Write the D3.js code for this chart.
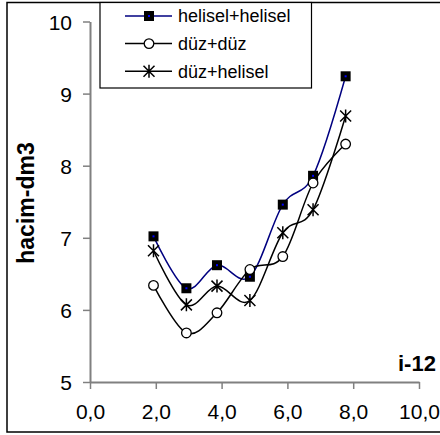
<!DOCTYPE html>
<html lang="tr">
<head>
<meta charset="utf-8">
<title>hacim-dm3</title>
<style>
  body { margin: 0; background: #fff; }
  text { font-family: "Liberation Sans", Arial, sans-serif; }
</style>
</head>
<body>
<script src="https://cdn.jsdelivr.net/npm/d3@7"></script>
<script>
var w = 440, h = 435;

// data
var xVals = [1.93, 2.93, 3.86, 4.86, 5.86, 6.78, 7.77];
var heliselHelisel = [7.02, 6.30, 6.62, 6.46, 7.46, 7.86, 9.24];
var duzDuz = [6.34, 5.68, 5.96, 6.56, 6.74, 7.76, 8.30];
var duzHelisel = [6.82, 6.07, 6.33, 6.13, 7.07, 7.39, 8.69];
var seriesNames = ["helisel+helisel", "düz+düz", "düz+helisel"];
var xTicks = [0, 2, 4, 6, 8, 10];
var yTicks = [5, 6, 7, 8, 9, 10];

var svg = d3.select("body").append("svg")
  .attr("width", w)
  .attr("height", h);

// outer frame
svg.append("rect")
  .attr("x", 7).attr("y", 2.5)
  .attr("width", 445).attr("height", 429.5)
  .attr("fill", "#fff")
  .attr("stroke", "#000")
  .attr("stroke-width", 1.5);

var x = d3.scaleLinear().domain([0, 10]).range([90, 419]);
var y = d3.scaleLinear().domain([5, 10]).range([382, 21.5]);

// axes
var xAxis = svg.append("g")
  .attr("transform", "translate(0," + y(5) + ")")
  .call(d3.axisBottom(x).tickValues(xTicks).tickSize(7).tickSizeOuter(0)
    .tickFormat(function (d) { return d3.format(".1f")(d).replace(".", ","); }));

var yAxis = svg.append("g")
  .attr("transform", "translate(" + x(0) + ",0)")
  .call(d3.axisLeft(y).tickValues(yTicks).tickSize(7).tickSizeOuter(0)
    .tickFormat(d3.format("d")));

[xAxis, yAxis].forEach(function (g) {
  g.select(".domain").attr("stroke", "#808080").attr("stroke-width", 2);
  g.selectAll(".tick line").attr("stroke", "#808080").attr("stroke-width", 1.5);
  g.selectAll(".tick text")
    .attr("fill", "#000")
    .style("font-size", "21px")
    .style("font-family", "'Liberation Sans', Arial, sans-serif");
});
xAxis.selectAll(".tick text").attr("dy", "0").attr("y", 37);
yAxis.selectAll(".tick text").attr("x", -18).attr("dy", "0.36em");

// axis titles
svg.append("text")
  .attr("transform", "translate(34,203) rotate(-90)")
  .attr("text-anchor", "middle")
  .style("font-size", "23px")
  .style("font-weight", "bold")
  .text("hacim-dm3");

svg.append("text")
  .attr("x", 398).attr("y", 371)
  .style("font-size", "22px")
  .style("font-weight", "bold")
  .text("i-12");

// series
var series = [
  { name: seriesNames[0], values: heliselHelisel, color: "#000080", marker: "square" },
  { name: seriesNames[1], values: duzDuz, color: "#000", marker: "circle" },
  { name: seriesNames[2], values: duzHelisel, color: "#000", marker: "star" }
];

var line = d3.line()
  .x(function (d) { return x(d[0]); })
  .y(function (d) { return y(d[1]); })
  .curve(d3.curveCardinal.tension(0));

function drawMarker(g, type, cx, cy) {
  if (type == "square") {
    g.append("rect").attr("x", cx - 5).attr("y", cy - 5)
      .attr("width", 10).attr("height", 10).attr("fill", "#000");
    g.append("rect").attr("x", cx - 1).attr("y", cy - 1)
      .attr("width", 2).attr("height", 2).attr("fill", "#0000ff");
  } else if (type == "circle") {
    g.append("circle").attr("cx", cx).attr("cy", cy).attr("r", 4.8)
      .attr("fill", "#fff").attr("stroke", "#000").attr("stroke-width", 1.3);
  } else {
    var s = 5.5;
    g.append("path")
      .attr("d", "M" + (cx - s) + "," + (cy - s) + "L" + (cx + s) + "," + (cy + s) +
        "M" + (cx - s) + "," + (cy + s) + "L" + (cx + s) + "," + (cy - s) +
        "M" + cx + "," + (cy - s - 1) + "L" + cx + "," + (cy + s + 1))
      .attr("stroke", "#000").attr("stroke-width", 1.5).attr("fill", "none");
  }
}

series.forEach(function (s) {
  var pts = xVals.map(function (xv, i) { return [xv, s.values[i]]; });
  svg.append("path")
    .datum(pts)
    .attr("d", line)
    .attr("fill", "none")
    .attr("stroke", s.color)
    .attr("stroke-width", 1.5);
  var mg = svg.append("g");
  pts.forEach(function (p) { drawMarker(mg, s.marker, x(p[0]), y(p[1])); });
});

// legend
var lg = svg.append("g");
lg.append("rect")
  .attr("x", 100).attr("y", 2.5)
  .attr("width", 211.5).attr("height", 85.5)
  .attr("fill", "#fff")
  .attr("stroke", "#000")
  .attr("stroke-width", 1.2);

series.forEach(function (s, i) {
  var ly = 16 + i * 27.6;
  lg.append("line")
    .attr("x1", 125).attr("x2", 172).attr("y1", ly).attr("y2", ly)
    .attr("stroke", s.color).attr("stroke-width", 1.5);
  drawMarker(lg, s.marker, 149, ly);
  lg.append("text")
    .attr("x", 178).attr("y", ly).attr("dy", "0.36em")
    .style("font-size", "18px")
    .text(s.name);
});
</script>
</body>
</html>
